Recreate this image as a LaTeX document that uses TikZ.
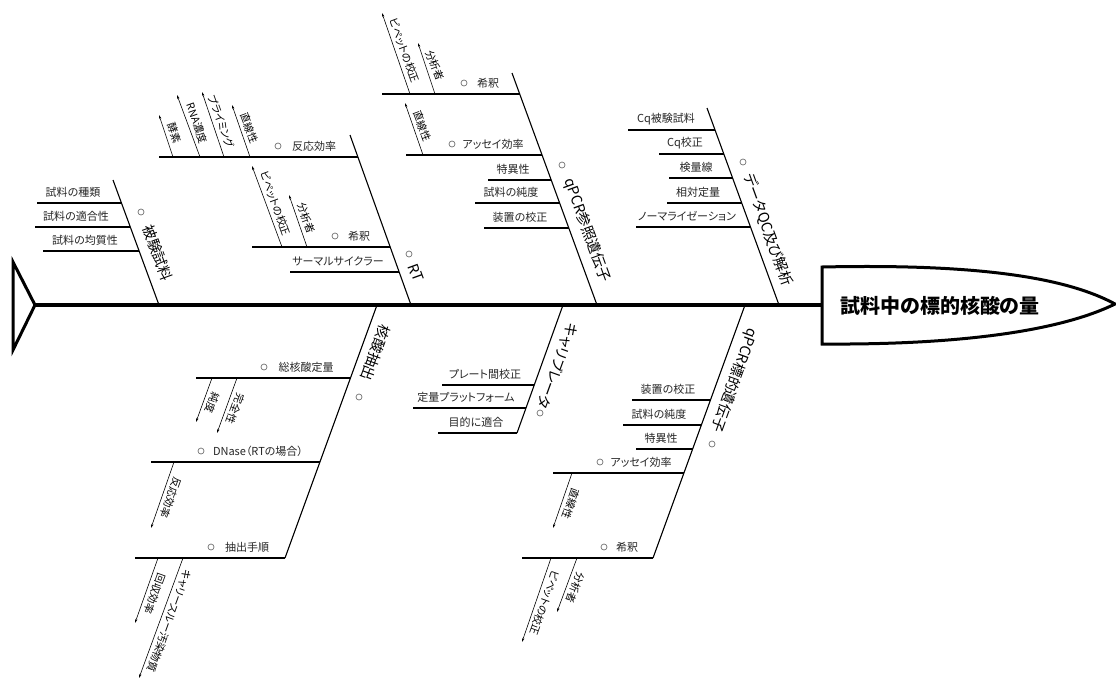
\documentclass[tikz,border=0pt]{standalone}
\usepackage{fontspec}
\setmainfont{Noto Sans CJK JP}[RawFeature=+palt]
\usetikzlibrary{arrows.meta,calc}
\tikzset{
  spine/.style={line width=4pt},
  bone/.style={line width=1.1pt},
  rib/.style={line width=1.2pt},
  ribthick/.style={line width=2pt},
  twig/.style={line width=0.6pt, -{Stealth[length=4pt,width=2.4pt]}},
  lbl/.style={font=\fontsize{11}{11}\selectfont, inner sep=0pt, text=black!85},
  tlbl/.style={font=\fontsize{10.5}{10.5}\selectfont, inner sep=0pt},
  blbl/.style={font=\fontsize{14.5}{14.5}\selectfont, inner sep=0pt},
  dot/.style={circle, draw=black!55, line width=0.7pt, minimum size=6pt, inner sep=0pt},
}
\newcommand\leafrib[6]{%
  \coordinate (#1a) at (#3,#2); \coordinate (#1b) at (#4,#2);
  \draw[rib] (#1a) -- (#1b);
  \node[lbl] (#1t) at (#5,#2-11) {#6};}
\newcommand\parentrib[7]{%
  \coordinate (#1a) at (#3,#2); \coordinate (#1c) at (#4+6,#2); \coordinate (#1b) at (#5,#2);
  \draw[ribthick] (#1a) -- (#1c); \draw[rib] (#1c) -- (#1b);
  \node[dot] (#1d) at (#4,#2-11) {};
  \node[lbl] (#1t) at (#6,#2-11) {#7};}
\newcommand\uptwig[4]{%
  \coordinate (#1a) at (#2); \coordinate (#1b) at (#3);
  \draw[twig] (#1a) -- (#1b);
  \node[tlbl, rotate=-70] (#1t) at ($(#1a)!0.5!(#1b)+(8.5,-3)$) {#4};}
\newcommand\dntwig[4]{%
  \coordinate (#1a) at (#2); \coordinate (#1b) at (#3);
  \draw[twig] (#1a) -- (#1b);
  \node[tlbl, rotate=-110] (#1t) at ($(#1a)!0.5!(#1b)+(8.5,3)$) {#4};}
\newcommand\bonelabel[5]{%
  \node[dot] (#1d) at (#2) {};
  \node[blbl, rotate=#4] (#1t) at (#3) {#5};}
\begin{document}
\begin{tikzpicture}[x=1pt,y=-1pt]
\useasboundingbox (0,0) rectangle (1116,678);
\fill[white] (0,0) rectangle (1116,678);

% spine, tail and head
\coordinate (tail) at (35,305);
\coordinate (headL) at (822,305);
\draw[spine] (tail) -- (headL);
\coordinate (tt) at (13,262); \coordinate (tb) at (13,350);
\draw[line width=3pt, line join=miter] (tt) -- (tail) -- (tb) -- cycle;
\draw[line width=3pt, fill=white] (822,267) .. controls (960,264) and (1060,274) .. (1115,304)
   .. controls (1060,331) and (960,345) .. (822,344) -- cycle;
\node[font=\bfseries\fontsize{20}{20}\selectfont, inner sep=0pt] (effect) at (940,306) {試料中の標的核酸の量};

% ---------- upper bones ----------
\coordinate (b1s) at (113,180); \coordinate (b1e) at (159,305); \draw[bone] (b1s) -- (b1e);
\coordinate (b2s) at (350,135); \coordinate (b2e) at (411,305); \draw[bone] (b2s) -- (b2e);
\coordinate (b3s) at (512,73);  \coordinate (b3e) at (597,305); \draw[bone] (b3s) -- (b3e);
\coordinate (b4s) at (707,108); \coordinate (b4e) at (779,305); \draw[bone] (b4s) -- (b4e);
% ---------- lower bones ----------
\coordinate (b5s) at (377,305); \coordinate (b5e) at (285,558); \draw[bone] (b5s) -- (b5e);
\coordinate (b6s) at (563,305); \coordinate (b6e) at (517,433); \draw[bone] (b6s) -- (b6e);
\coordinate (b7s) at (745,305); \coordinate (b7e) at (653,558); \draw[bone] (b7s) -- (b7e);

% bone labels
\bonelabel{l1}{141,212}{158,253}{-70}{被験試料}
\bonelabel{l2}{409,254}{416,273}{-70}{RT}
\bonelabel{l3}{562,165}{587,230}{-70}{qPCR参照遺伝子}
\bonelabel{l4}{743,162}{768,230}{-70}{データQC及び解析}
\bonelabel{l5}{359,397}{376,353}{-110}{核酸抽出}
\bonelabel{l6}{540,413}{558,366}{-110}{キャリブレータ}
\bonelabel{l7}{712,444}{734,380}{-110}{qPCR標的遺伝子}

% ---------- 被験試料 ----------
\leafrib{r11}{203}{37}{121.4}{73}{試料の種類}
\leafrib{r12}{227}{35}{130.2}{76}{試料の適合性}
\leafrib{r13}{251}{43}{139}{85}{試料の均質性}

% ---------- RT ----------
\parentrib{r21}{157}{159}{278}{357.9}{314}{反応効率}
\uptwig{t211}{173,157}{159,115}{酵素}
\uptwig{t212}{200,157}{177,95}{RNA濃度}
\uptwig{t213}{224,157}{202,92}{プライミング}
\uptwig{t214}{250,157}{232,105}{直線性}
\parentrib{r22}{247}{252}{335}{390}{359}{希釈}
\uptwig{t221}{282,247}{252,166}{ピペットの校正}
\uptwig{t222}{307,247}{289,195}{分析者}
\leafrib{r23}{272}{290}{398.9}{338}{サーマルサイクラー}

% ---------- qPCR参照遺伝子 ----------
\parentrib{r31}{94}{382}{464}{519.7}{488}{希釈}
\uptwig{t311}{410,94}{382,13}{ピペットの校正}
\uptwig{t312}{435,94}{418,43}{分析者}
\parentrib{r32}{155}{406}{452}{541.9}{493}{アッセイ効率}
\uptwig{t321}{423,155}{405,103}{直線性}
\leafrib{r33}{180}{488}{551.1}{513}{特異性}
\leafrib{r34}{203}{475}{559.5}{511}{試料の純度}
\leafrib{r35}{228}{484}{568.6}{520}{装置の校正}

% ---------- データQC及び解析 ----------
\leafrib{r41}{130}{628}{715}{666}{Cq被験試料}
\leafrib{r42}{154}{659}{723.7}{685}{Cq校正}
\leafrib{r43}{178}{669}{732.5}{696}{検量線}
\leafrib{r44}{203}{667}{741.6}{698}{相対定量}
\leafrib{r45}{227}{636}{750.3}{687}{ノーマライゼーション}

% ---------- 核酸抽出 ----------
\parentrib{r51}{378}{196}{264}{350.5}{306}{総核酸定量}
\dntwig{t511}{212,378}{196,422}{純度}
\dntwig{t512}{237,378}{217,433}{完全性}
\parentrib{r52}{462}{151}{201}{319.9}{258}{DNase（RTの場合）}
\dntwig{t521}{174,462}{151,528}{反応効率}
\parentrib{r53}{558}{135}{211}{285}{247}{抽出手順}
\dntwig{t531}{158,558}{135,623}{回収効率}
\dntwig{t532}{183,558}{139,678}{キャリースルー汚染物質}

% ---------- キャリブレータ ----------
\leafrib{r61}{385}{442}{534.3}{485}{プレート間校正}
\leafrib{r62}{408}{413}{526}{466}{定量プラットフォーム}
\leafrib{r63}{433}{438}{517}{476}{目的に適合}

% ---------- qPCR標的遺伝子 ----------
\leafrib{r71}{400}{632}{710.5}{668}{装置の校正}
\leafrib{r72}{425}{623}{701.4}{659}{試料の純度}
\leafrib{r73}{449}{636}{692.6}{661}{特異性}
\parentrib{r74}{473}{553}{600}{683.9}{641}{アッセイ効率}
\dntwig{t741}{572,473}{553,528}{直線性}
\parentrib{r75}{558}{522}{604}{653}{627}{希釈}
\dntwig{t751}{551,558}{522,642}{ピペットの校正}
\dntwig{t752}{577,558}{557,612}{分析者}
\end{tikzpicture}
\end{document}
